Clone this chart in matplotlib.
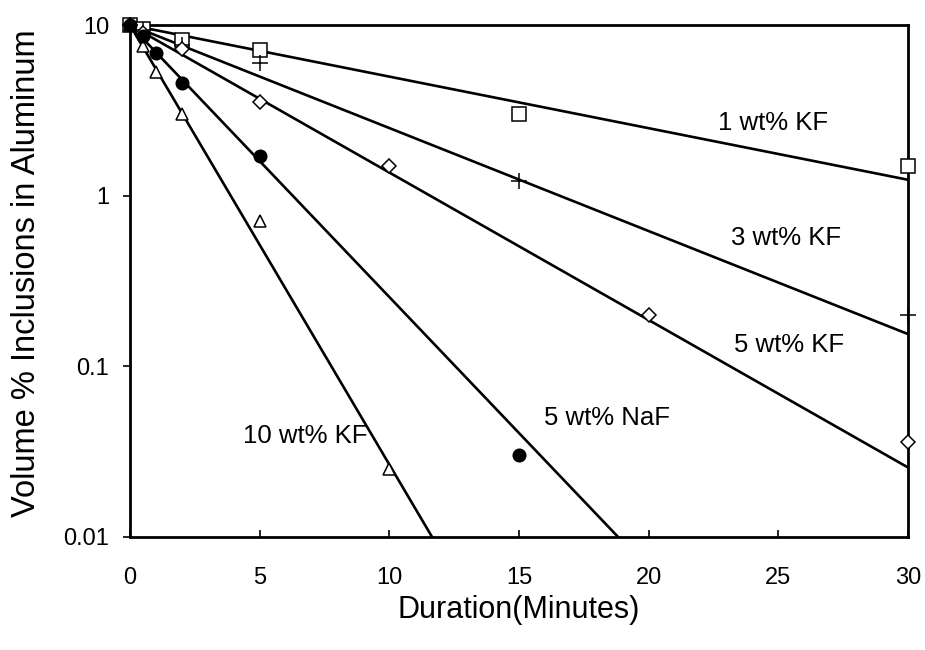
import numpy as np
import matplotlib
matplotlib.use("Agg")
import matplotlib.pyplot as plt

plt.rcParams['font.family'] = ['Liberation Sans', 'DejaVu Sans']

# measured points (minutes, volume %)
kf1_t = [0, 0.5, 2, 5, 15, 30]
kf1_v = [10, 9.5, 8.2, 7.1, 3.0, 1.5]
kf3_t = [0, 0.5, 2, 5, 15, 30]
kf3_v = [10, 9.3, 7.6, 6.0, 1.22, 0.2]
kf5_t = [0, 0.5, 2, 5, 10, 20, 30]
kf5_v = [10, 9.0, 7.2, 3.55, 1.5, 0.2, 0.036]
naf5_t = [0, 0.5, 1, 2, 5, 15]
naf5_v = [10, 8.6, 6.9, 4.6, 1.7, 0.03]
kf10_t = [0, 0.5, 1, 2, 5, 10]
kf10_v = [10, 7.5, 5.3, 3.0, 0.71, 0.025]

# fitted first-order decay: v = c0 * exp(-k t)
fit_c0 = [10, 10, 10, 10, 10]
fit_k = [0.0696, 0.139, 0.199, 0.367, 0.593]

labels = ['1 wt% KF', '3 wt% KF', '5 wt% KF', '5 wt% NaF', '10 wt% KF']
label_x = [24.8, 25.3, 25.4, 18.4, 6.75]
label_y = [2.67, 0.565, 0.133, 0.05, 0.039]

fig = plt.figure(figsize=(9.25, 6.5), dpi=100)
ax = fig.add_axes([0.1405, 0.174, 0.841, 0.7875])

series = [(kf1_t, kf1_v), (kf3_t, kf3_v), (kf5_t, kf5_v), (kf10_t, kf10_v), (naf5_t, naf5_v)]
fits = [0, 1, 2, 4, 3]
styles = [dict(marker='s', mfc='white', ms=10),
          dict(marker='+', mfc='none', ms=12),
          dict(marker='D', mfc='white', ms=7),
          dict(marker='^', mfc='white', ms=9),
          dict(marker='o', mfc='black', ms=9)]

tt = np.linspace(0, 30, 300)
for (t, v), st, i in zip(series, styles, fits):
    ax.plot(tt, fit_c0[i] * np.exp(-fit_k[i] * tt), color='black', lw=1.9, zorder=2)
    ax.plot(t, v, ls='none', color='black', mec='black', mew=1.1,
            clip_on=False, zorder=3, **st)

ax.set_yscale('log')
ax.set_xlim(0, 30)
ax.set_ylim(0.01, 10)
ax.set_yticks([0.01, 0.1, 1, 10])
ax.set_yticklabels(['0.01', '0.1', '1', '10'])
ax.set_xticks([0, 5, 10, 15, 20, 25, 30])
ax.set_xticklabels(['0', '5', '10', '15', '20', '25', '30'])
ax.minorticks_off()
ax.tick_params(axis='y', direction='out', length=5, width=1.2, labelsize=17, pad=10)
ax.tick_params(axis='x', direction='in', length=5, width=1.2, labelsize=17, pad=22)
for s in ax.spines.values():
    s.set_linewidth(2)

ax.set_xlabel('Duration(Minutes)', fontsize=22, labelpad=4)
ax.set_ylabel('Volume % Inclusions in Aluminum', fontsize=23.5)
ax.yaxis.set_label_coords(-0.113, 0.515)

for lx, ly, lab in zip(label_x, label_y, labels):
    ax.text(lx, ly, lab, fontsize=18.5, ha='center', va='center')

fig.savefig('out.png', dpi=100)
